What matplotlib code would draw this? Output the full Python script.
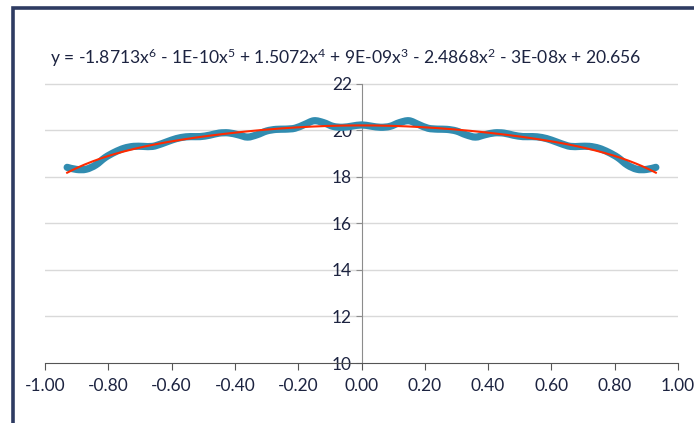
import numpy as np
import matplotlib
matplotlib.use("Agg")
import matplotlib.pyplot as plt
from matplotlib.patches import Rectangle, PathPatch
from matplotlib.path import Path

# values
x_vals = [-0.93, -0.90, -0.87, -0.84, -0.81, -0.78, -0.75, -0.72, -0.69, -0.66,
          -0.63, -0.60, -0.57, -0.54, -0.51, -0.48, -0.45, -0.42, -0.39, -0.36,
          -0.33, -0.30, -0.27, -0.24, -0.21, -0.18, -0.15, -0.12, -0.09, -0.06,
          -0.03, 0.00, 0.03, 0.06, 0.09, 0.12, 0.15, 0.18, 0.21, 0.24,
          0.27, 0.30, 0.33, 0.36, 0.39, 0.42, 0.45, 0.48, 0.51, 0.54,
          0.57, 0.60, 0.63, 0.66, 0.69, 0.72, 0.75, 0.78, 0.81, 0.84,
          0.87, 0.90, 0.93]
y_vals = [18.40, 18.31, 18.32, 18.50, 18.82, 19.05, 19.22, 19.30, 19.30, 19.30,
          19.42, 19.57, 19.68, 19.72, 19.72, 19.78, 19.87, 19.88, 19.80, 19.70,
          19.80, 19.96, 20.03, 20.04, 20.08, 20.24, 20.40, 20.32, 20.16, 20.12,
          20.17, 20.22, 20.17, 20.12, 20.16, 20.32, 20.40, 20.24, 20.08, 20.04,
          20.03, 19.96, 19.80, 19.70, 19.80, 19.88, 19.87, 19.78, 19.72, 19.72,
          19.68, 19.57, 19.42, 19.30, 19.30, 19.30, 19.22, 19.05, 18.82, 18.50,
          18.32, 18.31, 18.40]
x_ticks = [-1.0, -0.8, -0.6, -0.4, -0.2, 0.0, 0.2, 0.4, 0.6, 0.8, 1.0]
y_ticks = [10, 12, 14, 16, 18, 20, 22]
equation = "y = -1.8713x$^6$ - 1E-10x$^5$ + 1.5072x$^4$ + 9E-09x$^3$ - 2.4868x$^2$ - 3E-08x + 20.656"

plt.rcParams['font.family'] = ['Lato', 'DejaVu Sans']
plt.rcParams['mathtext.fontset'] = 'custom'
plt.rcParams['mathtext.rm'] = 'Lato'
plt.rcParams['mathtext.it'] = 'Lato'
txt_col = '#1c2340'


def smooth_path(xs, ys):
    # spreadsheet-style "smoothed line": bezier segments through every point
    pts = np.column_stack([xs, ys])
    verts = [pts[0]]
    codes = [Path.MOVETO]
    n = len(pts)
    for i in range(n - 1):
        p0 = pts[max(i - 1, 0)]
        p1 = pts[i]
        p2 = pts[i + 1]
        p3 = pts[min(i + 2, n - 1)]
        verts += [p1 + (p2 - p0) / 6, p2 - (p3 - p1) / 6, p2]
        codes += [Path.CURVE4] * 3
    return Path(verts, codes)


fig = plt.figure(figsize=(6.94, 4.23), dpi=100)
ax = fig.add_axes([45/694, 1-363/423, (678-45)/694, (363-83.5)/423])

# 6th order trendline, fitted the way the spreadsheet does
coef = np.polyfit(x_vals, y_vals, 6)
xf = np.linspace(min(x_vals), max(x_vals), 300)

ax.add_patch(PathPatch(smooth_path(x_vals, y_vals), fill=False,
                       edgecolor='#318cb0', lw=5.2, capstyle='round',
                       joinstyle='round', zorder=3))
ax.plot(xf, np.polyval(coef, xf), color='#ff2a00', lw=1.5, zorder=4)

ax.set_xlim(-1, 1)
ax.set_ylim(10, 22)
ax.set_xticks(x_ticks)
ax.set_xticklabels([f"{v:.2f}" for v in x_ticks])
ax.set_yticks(y_ticks)
for v in y_ticks[1:]:
    ax.axhline(v, color='#d9d9d9', lw=1, zorder=1)

ax.spines['top'].set_visible(False)
ax.spines['right'].set_visible(False)
ax.spines['left'].set_position(('data', 0))
ax.spines['left'].set_color('#8c8c8c')
ax.spines['bottom'].set_color('#555555')
ax.tick_params(axis='x', direction='out', length=5, color='#555555',
               labelsize=12.5, labelcolor=txt_col, pad=6)
ax.tick_params(axis='y', direction='out', length=4, color='#8c8c8c',
               labelsize=12.5, labelcolor=txt_col, pad=3)

fig.text(346/694, 1-58/423, equation, ha='center', va='center',
         fontsize=12.6, color=txt_col)

# dark frame round the chart (runs off the right and bottom edges)
fig.patches.append(Rectangle((12.5/694, -0.1), 1.2, 1.1 - 8.5/423,
                             transform=fig.transFigure, fill=False,
                             edgecolor='#2e3b62', lw=2.6))

fig.savefig('out.png', dpi=100)
